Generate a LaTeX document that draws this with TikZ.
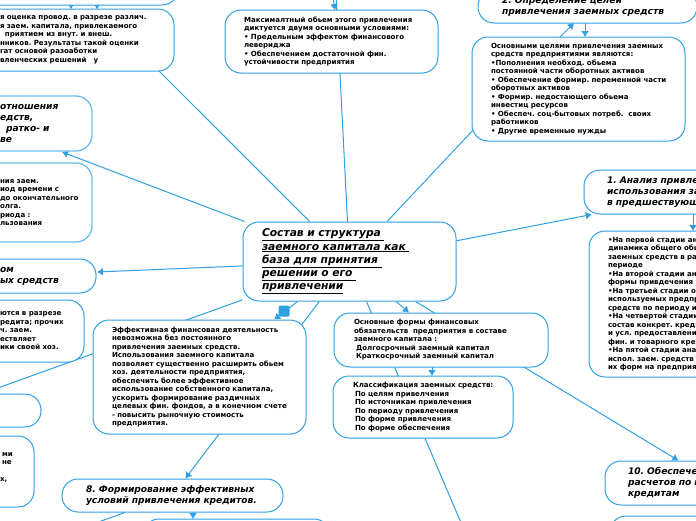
\documentclass[tikz,border=0pt]{standalone}
\usepackage{fontspec}
\setmainfont{DejaVu Sans}
\usetikzlibrary{arrows.meta,backgrounds}
\definecolor{mapblue}{HTML}{2F9FE3}
\definecolor{maplight}{HTML}{6DBDEE}
\frenchspacing
\begin{document}
\begin{tikzpicture}[x=1pt,y=-1pt,
  box/.style n args={3}{rectangle,draw=mapblue,fill=white,line width=1pt,rounded corners=16pt,minimum width=#1pt,minimum height=#2pt,inner xsep=#3pt,inner ysep=0pt,text width=#1pt-2*#3pt,align=left},
  note/.style={font=\bfseries\fontsize{7.05}{8.5}\selectfont},
  head/.style={font=\bfseries\itshape\fontsize{9.1}{11}\selectfont},
  pale/.style={draw=maplight,line width=1.3pt},
  link/.style={draw=mapblue,line width=1pt},
  tip/.style={link,-{Latex[length=6pt,width=8pt]}}]
\useasboundingbox (0,0) rectangle (696,520);
% centre
\node[box={213}{79}{19},font=\bfseries\itshape\fontsize{10.7}{13.3}\selectfont] (main) at (349.5,261.5) {\underline{Состав и структура\ }\\\underline{заемного капитала как\ }\\\underline{база для принятия\ }\\\underline{решении о его\ }\\\underline{привлечении}};
% left side
\node[box={208}{45}{19}] (boxA) at (74,-17.5) {};
\node[box={191}{62}{17},note] (boxB) at (78.5,40) {я оценка провод. в разрезе различ.\\я заем. капитала, привлекаемого\\\hspace*{5pt}приятием из внут. и внеш.\\нников. Результаты такой оценки\\гат основой разоаботки\\вленческих решений\ \ \ у};
\node[box={109}{55}{17},head,pale] (boxC) at (37.5,123.5) {отношения\\едств,\\\hspace*{6pt}ратко- и\\ве};
\node[box={109}{79}{17},note,pale] (boxD) at (37.5,202.5) {ния заем.\\иод времени с\\\mbox{до окончательного}\\олга.\\риода :\\льзования};
\node[box={113}{34}{17},head] (boxE) at (39.5,276) {ом\\ых средств};
\node[box={101}{62}{17},note] (boxF) at (33.5,331) {ются в разрезе\\редита; прочих\\ч. заем.\\ествляет\\ики своей хоз.};
\node[box={61}{33}{17}] (boxG) at (10.5,410.5) {};
\node[box={51}{71}{17},note] (boxH) at (8.5,471.5) {\hspace*{2pt}ми\\\hspace*{2pt}не\\\mbox{}\\х,\\\mbox{}};
% top row
\node[box={213}{63}{19},note] (boxK) at (331.5,41.5) {Максималтный обьем этого привлечения\\диктуется двумя основными условиями:\\• Предельным эффектом финансового\\левериджа\\• Обеспечением достаточной фин.\\устойчивости предприятия};
\node[box={219}{33}{24},head] (boxL) at (587.5,6.5) {2. Определение целей\\привлечения заемных средств};
\node[box={213}{104}{19},note] (boxM) at (578.5,89) {Основными целями привлечения заемных\\средств предприятиями являются:\\•Пополнения необход. обьема\\постоянной части оборотных активов\\\mbox{• Обеспечение формир. переменной части}\\оборотных активов\\• Формир. недостающего обьема\\инвестиц ресурсов\\• Обеспеч. соц-бытовых потреб.\ \ своих\\работников\\• Другие временные нужды};
% right side
\node[box={247}{44}{23},head] (boxN) at (707.5,192) {1. Анализ привле\\использования за\\в предшествующ};
\node[box={213}{146}{19},note] (boxO) at (695.5,304) {•На первой стадии ан\\динамика общего обь\\заемных средств в ра\\периоде\\•На второй стадии ан\\формы привдечения :\\•На третьей стадии ог\\используемых предпр\\средств по периоду и\\•На четвертой стадии\\состав конкрет. креди\\и усл. предоставлени\\фин. и товарного кред\\•На пятой стадии ана\\испол. заем. средств\\их форм на предприят};
\node[box={221}{44}{23},head] (boxS) at (715.5,483) {10. Обеспече\\расчетов по к\\кредитам};
\node[box={213}{60}{19}] (boxT) at (716.5,546) {};
% bottom
\node[box={213}{114}{19},note] (boxP) at (199.5,377) {Эффективная финансовая деятельность\\невозможна без постоянного\\привлечения заемных средств.\\Использования заемного капитала\\позволяет существенно расширить обьем\\хоз. деятельности предприятия,\\обеспечить более эффективное\\использование собственного капитала,\\ускорить формирование раздичных\\целевых фин. фондов, а в конечном счете\\- повысить рыночную стоимость\\предприятия.};
\node[box={214}{54}{20},note] (boxQ) at (441,340) {Основные формы финансовых\\обязательств\ \ предприятия в составе\\заемного капитала :\\\hspace*{2pt}Долгосрочный заемный капитал\\\hspace*{2pt}Краткосрочный заемный капитал};
\node[box={180}{62}{20},note] (boxR) at (423,407) {\mbox{Классификация заемных средств:}\\\hspace*{2pt}По целям привелчения\\\hspace*{2pt}По источникам привлечения\\\hspace*{2pt}По периоду привлечения\\\hspace*{2pt}По форме привлечения\\\hspace*{2pt}По форме обеспечения};
\node[box={221}{33}{24},head] (boxI) at (172.5,495.5) {8. Формирование эффективных\\условий привлечения кредитов.};
\node[box={187}{40}{19}] (boxJ) at (236.5,539) {};
\node[rectangle,fill=mapblue,rounded corners=1.5pt,minimum size=11pt,inner sep=0pt] (mark) at (284,311) {};
% free ends
\coordinate (tipC) at (62,152);
\coordinate (tipE) at (97,272);
\coordinate (endB) at (128,40);
\coordinate (endM) at (480,122.7);
\coordinate (endK) at (336,-5);
\coordinate (endG) at (-5,389);
\coordinate (endR) at (462,525);
\coordinate (endI) at (90,525);
\coordinate (topK) at (333,-3);
\coordinate (tipK) at (335,10);
\begin{scope}[on background layer]
\foreach \1 in {endB,endM,endK,endG,endR} {
   \draw[link] (main) -- (\1);
}
\foreach \1 in {tipC,tipE,boxP,boxQ,boxN,boxS,boxI} {
   \draw[tip] (main) -- (\1);
}
\draw[link] (boxI) -- (endI);
\draw[tip] (topK) -- (tipK);
\foreach \x in {71,97} {
   \draw[tip] (\x,5) -- (\x,9.5);
}
\draw[tip] (560,37) -- (574,23);
\draw[tip] (585,23) -- (585,37);
\draw[tip] (693,214) -- (693,231);
\draw[tip] (432,367) -- (432,376);
\draw[tip] (193,512) -- (193,519);
\end{scope}
\end{tikzpicture}
\end{document}
